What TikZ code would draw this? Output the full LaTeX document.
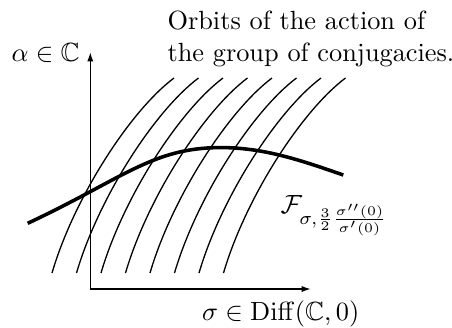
\documentclass[tikz,border=0pt]{standalone}
\usepackage{amsmath,amssymb}
\usetikzlibrary{arrows.meta,calc}
\begin{document}
\begin{tikzpicture}[x=0.38pt,y=-0.38pt,
  lbl/.style={anchor=base west,inner sep=0pt,font=\fontsize{10}{12}\selectfont},
  axis/.style={line width=0.6pt,-{Latex[length=3.6pt,width=2.4pt]}},
  orbit/.style={line width=0.5pt},
  thick curve/.style={line width=1.35pt}]
\useasboundingbox (0,0) rectangle (452,327);
% axes
\coordinate (O) at (90.3,289);
\coordinate (Ytop) at (90.3,52);
\coordinate (Xend) at (311,289);
\draw[axis] (O) -- (Ytop);
\draw[axis] (O) -- (Xend);
% orbits
\foreach \i in {0,...,7}{
  \coordinate (b\i) at ({52+24.5*\i},273);
  \coordinate (t\i) at ({174+24.5*\i},78);
  \draw[orbit] (b\i) .. controls ($(b\i)+(22,-75)$) and ($(b\i)+(78,-162)$) .. (t\i);
}
% thick curve
\coordinate (f0) at (27.7,223.3);
\coordinate (f1) at (213,147.7);
\coordinate (f2) at (343.3,175);
\draw[thick curve] (f0) .. controls (120,180) and (150,150) .. (f1)
  .. controls (260,146) and (300,160) .. (f2);
% labels
\node[lbl] (t1) at (167,29.5) {Orbits of the action of};
\node[lbl] (t2) at (167,61) {the group of conjugacies.};
\node[lbl] (ya) at (11,61.5) {$\alpha\in\mathbb{C}$};
\node[lbl] (xa) at (201.5,320) {$\sigma\in\mathrm{Diff}(\mathbb{C},0)$};
\node[lbl] (fl) at (280,213) {$\mathcal{F}_{\sigma,\frac{3}{2}\frac{\sigma''(0)}{\sigma'(0)}}$};
\end{tikzpicture}
\end{document}
